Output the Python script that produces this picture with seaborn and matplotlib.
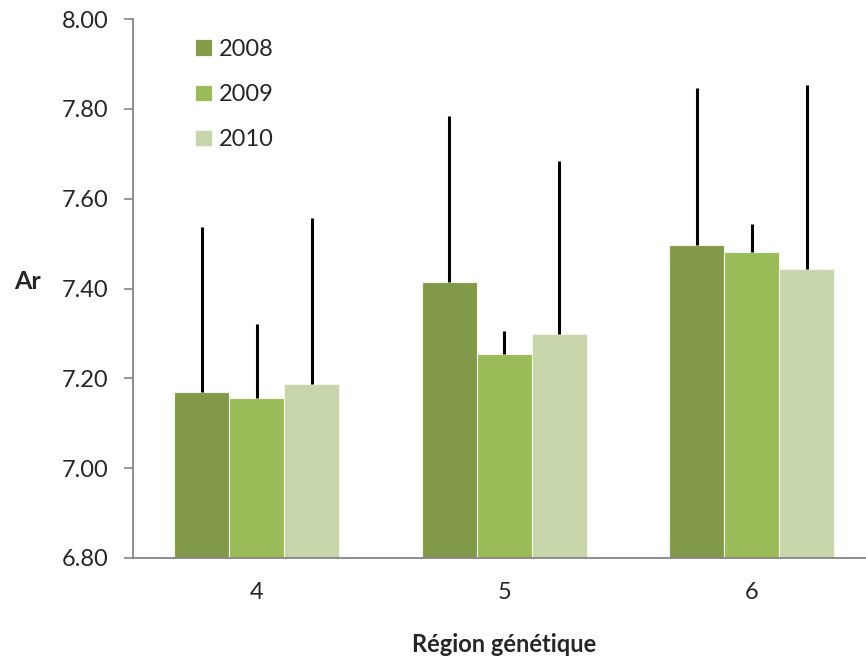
import matplotlib
matplotlib.use("Agg")
import matplotlib.pyplot as plt
import seaborn as sns
import pandas as pd
import numpy as np

regions = ["4", "5", "6"]
years = ["2008", "2009", "2010"]
values_2008 = [7.169, 7.414, 7.497]
values_2009 = [7.156, 7.255, 7.481]
values_2010 = [7.187, 7.299, 7.444]
errtop_2008 = [7.536, 7.784, 7.846]
errtop_2009 = [7.320, 7.305, 7.544]
errtop_2010 = [7.556, 7.684, 7.853]
colors = ["#82994A", "#9BBB59", "#C6D6AA"]
yticks = [6.80, 7.00, 7.20, 7.40, 7.60, 7.80, 8.00]

sns.set_style("white")
plt.rcParams["font.family"] = ["Lato", "DejaVu Sans"]

vals = [values_2008, values_2009, values_2010]
tops = [errtop_2008, errtop_2009, errtop_2010]
df = pd.DataFrame({
    "region": [r for y in years for r in regions],
    "year": [y for y in years for r in regions],
    "value": [v for vs in vals for v in vs],
})

fig = plt.figure(figsize=(8.66, 6.64), dpi=100)
ax = fig.add_axes([133 / 866, 1 - 558 / 664, 742.5 / 866, (558 - 19) / 664])

sns.barplot(data=df, x="region", y="value", hue="year", order=regions,
            hue_order=years, palette=colors, width=0.667, ax=ax,
            edgecolor="#F2F5EA", linewidth=0.8, saturation=1, errorbar=None)

for cont, v, t in zip(ax.containers, vals, tops):
    xs = [b.get_x() + b.get_width() / 2 for b in cont]
    up = np.array(t) - np.array(v)
    ax.errorbar(xs, v, yerr=[np.zeros_like(up), up], fmt="none",
                ecolor="black", elinewidth=2.2, capsize=0, zorder=3)

ax.set_ylim(6.80, 8.00)
ax.set_xlim(-0.5, 2.5)
ax.set_yticks(yticks)
ax.set_yticklabels([f"{t:.2f}" for t in yticks], fontsize=17)
ax.set_xticklabels(regions, fontsize=17)
ax.set_xticks([-0.5, 0.5, 1.5], minor=True)
ax.tick_params(axis="x", which="major", length=0, pad=17)
ax.tick_params(axis="x", which="minor", length=6, width=1.2, color="#868686", direction="out")
ax.tick_params(axis="y", length=6.5, width=1.2, color="#868686", direction="out", pad=11, left=True)
for s in ["top", "right"]:
    ax.spines[s].set_visible(False)
for s in ["left", "bottom"]:
    ax.spines[s].set_color("#868686")
    ax.spines[s].set_linewidth(1.3)

ax.set_xlabel("")
ax.set_ylabel("")
fig.text(28 / 866, 1 - 282 / 664, "Ar", fontsize=18, fontweight="bold", ha="center", va="center")
fig.text(504 / 866, 1 - 645 / 664, "Région génétique", fontsize=17, fontweight="bold", ha="center", va="center")

ax.legend(loc="upper left", bbox_to_anchor=(195 / 866, 1 - 39 / 664),
          bbox_transform=fig.transFigure, frameon=False, fontsize=17,
          handlelength=0.7, handleheight=0.7, handletextpad=0.3,
          labelspacing=1.02, borderpad=0, borderaxespad=0, title=None)

fig.savefig("out.png", dpi=100)
